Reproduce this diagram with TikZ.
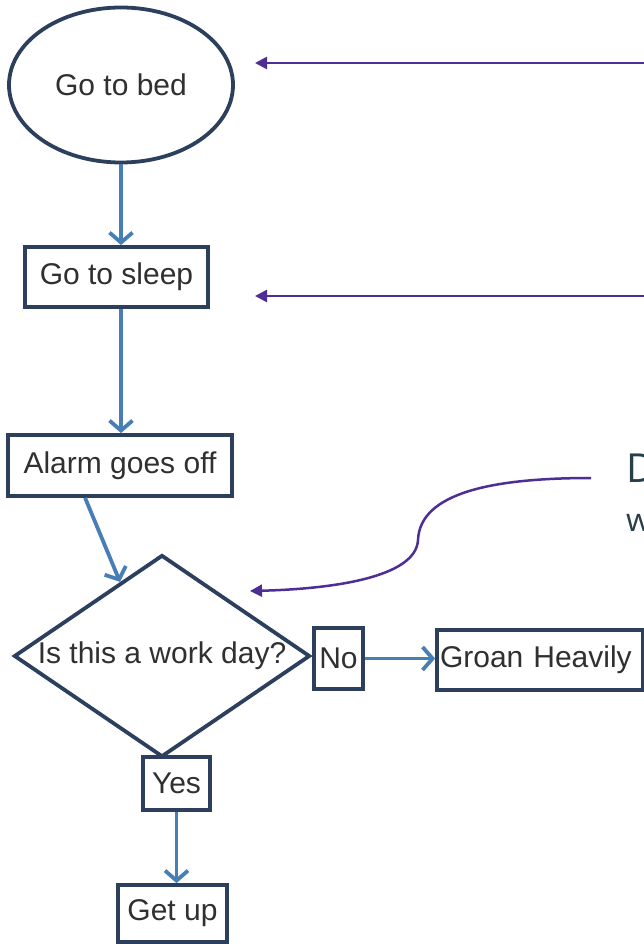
\documentclass[tikz,border=0pt]{standalone}
\usepackage{fontspec}
\setmainfont{Liberation Sans}
\newfontfamily\slidefont{Open Sans}
\usetikzlibrary{shapes.geometric,arrows.meta,calc}
\definecolor{boxline}{RGB}{44,64,94}
\definecolor{flowblue}{RGB}{72,126,182}
\definecolor{callout}{RGB}{76,46,150}
\definecolor{txt}{RGB}{48,48,48}
\definecolor{slate}{RGB}{40,62,72}
\tikzset{
  boxfont/.style={font=\fontsize{30}{35}\selectfont},
  box/.style={draw=boxline,line width=3.8pt,fill=white,rectangle,inner sep=0pt,text=txt,boxfont},
  flow/.style={draw=flowblue,line width=3.8pt,-{Straight Barb[length=10pt,width=23pt]}},
  calloutarrow/.style={draw=callout,line width=2.5pt,-{Triangle[length=12pt,width=12pt]}},
  slidetext/.style={anchor=base west,inner sep=0pt,text=slate}
}
\begin{document}
\begin{tikzpicture}[x=1pt,y=-1pt]
\useasboundingbox (0,0) rectangle (644,944);
\clip (0,0) rectangle (644,944);
\fill[white] (0,0) rectangle (644,944);

% flowchart nodes
\node[ellipse,draw=boxline,line width=3.8pt,fill=white,minimum width=224pt,minimum height=155pt,inner sep=0pt,text=txt,boxfont] (bed) at (121,85) {Go to bed};
\node[box,minimum width=183pt,minimum height=60pt] (sleep) at (116.5,277) {Go to sleep};
\node[box,minimum width=224pt,minimum height=61pt] (alarm) at (120,465.5) {Alarm goes off};
\node[diamond,draw=boxline,line width=3.8pt,fill=white,minimum width=296pt,minimum height=202pt,inner sep=0pt,text=txt,boxfont] (work) at (162,656) {\makebox[0pt]{Is this a work day?}};
\node[box,minimum width=49pt,minimum height=61pt] (no) at (338.5,658.5) {No};
\node[box,minimum width=206pt,minimum height=60pt,text width=200pt,align=left] (groan) at (540,660) {Groan Heavily};
\node[box,minimum width=67pt,minimum height=53pt] (yes) at (176.5,783.5) {Yes};
\node[box,minimum width=109pt,minimum height=57pt] (getup) at (172.5,913.5) {Get up};

% flow connectors
\draw[flow] (bed.south) -- (bed.south |- sleep.north);
\draw[flow] ([xshift=4.5pt]sleep.south) -- ([xshift=1pt]alarm.north);
\draw[flow] ([xshift=79pt]alarm.south west) -- ($(work.north)!0.28!(work.west)$);
\draw[flow] (no.east) -- (no.east -| groan.west);
\draw[flow] (yes.south) -- (yes.south |- getup.north);

% slide text (cut off at the right edge, as in the reference)
\node[slidetext,font=\slidefont\fontsize{40}{48}\selectfont] (title) at (626,482) {D};
\node[slidetext,font=\slidefont\fontsize{32}{38}\selectfont] (sub) at (626,531) {w};

% callout arrows
\coordinate (c1s) at (644,63);
\coordinate (c1e) at (255,63);
\coordinate (c2s) at (644,296);
\coordinate (c2e) at (255,296);
\coordinate (c3s) at (591,478);
\coordinate (c3m) at (418,540);
\coordinate (c3e) at (250,591);
\draw[calloutarrow] (c1s) -- (c1e);
\draw[calloutarrow] (c2s) -- (c2e);
\draw[calloutarrow] (c3s) .. controls (495,478) and (420,492) .. (c3m) .. controls (416,578) and (330,589) .. (c3e);
\end{tikzpicture}
\end{document}
